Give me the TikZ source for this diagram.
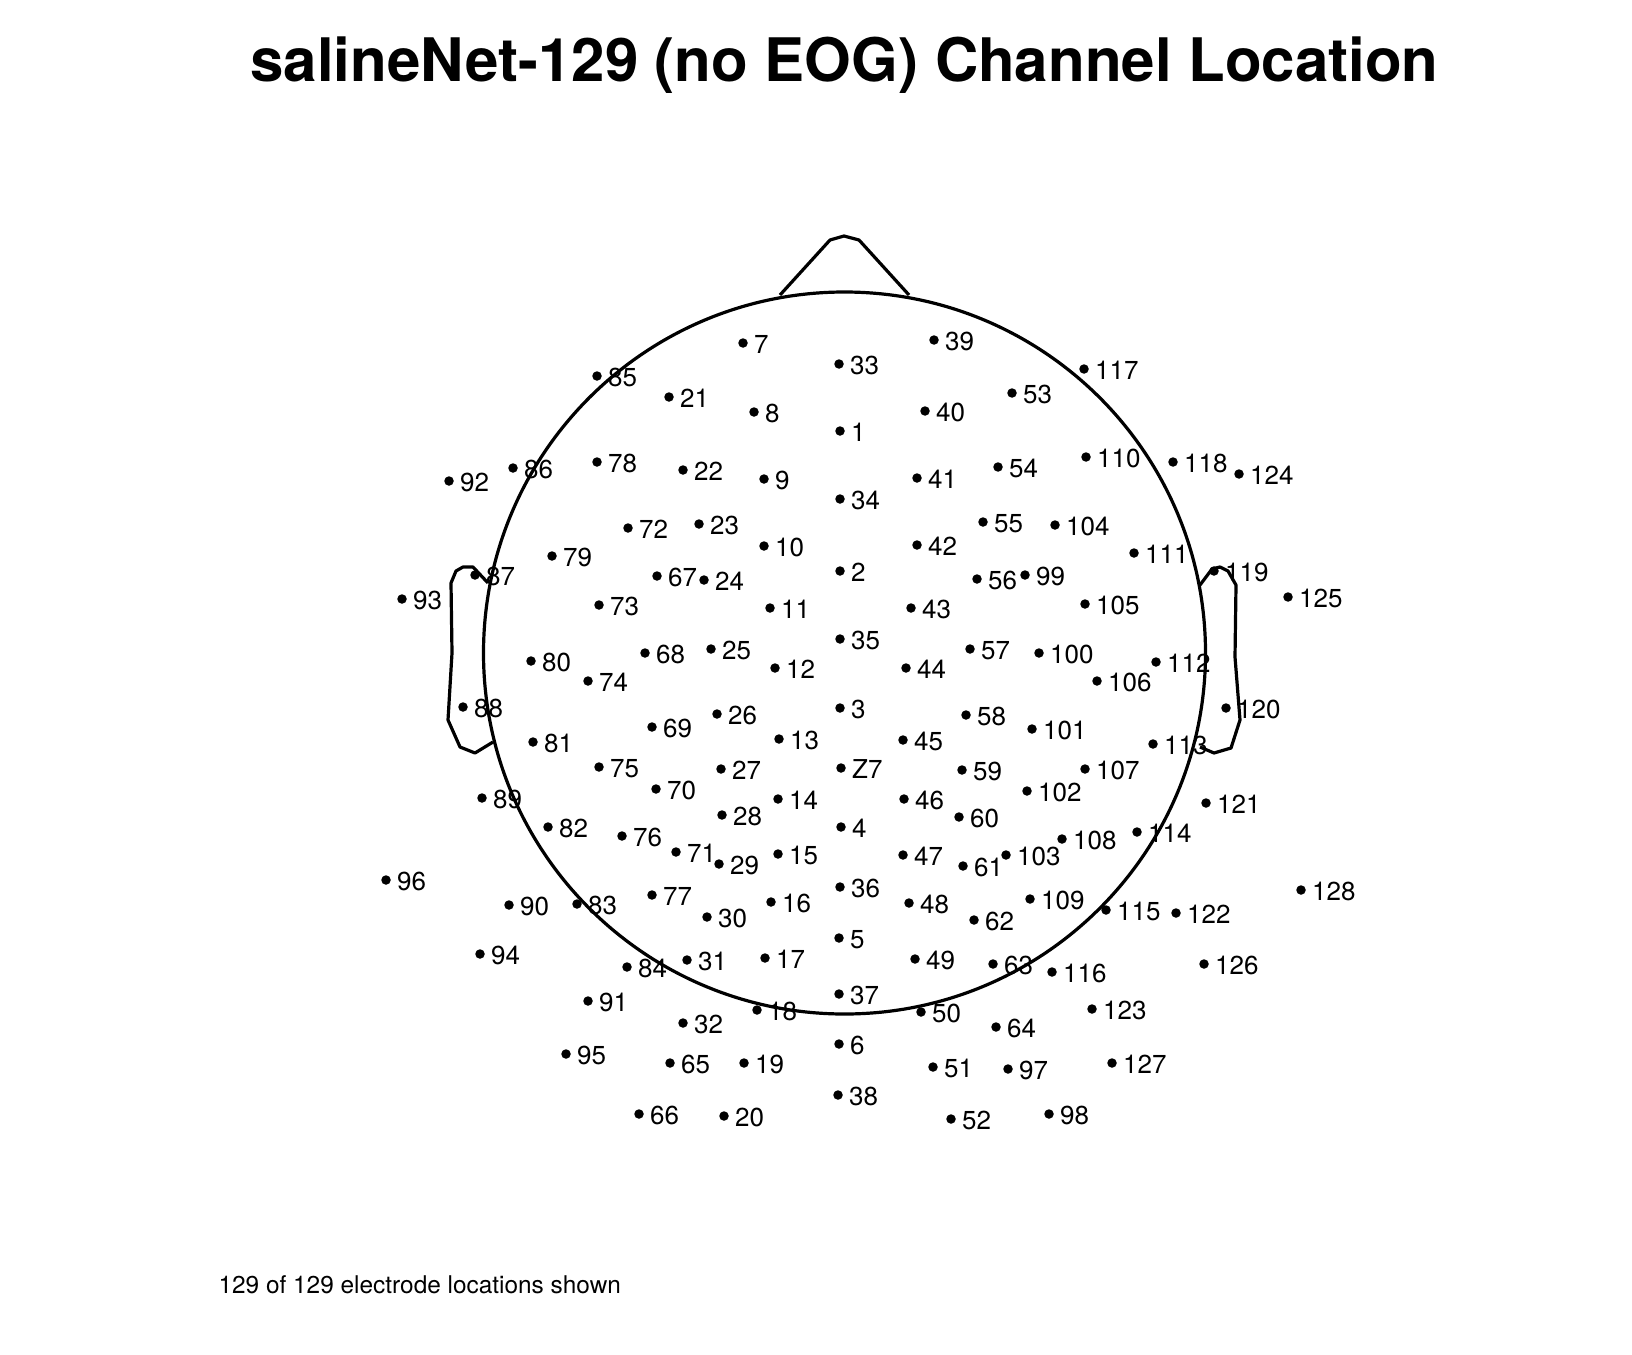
\documentclass[tikz,border=0pt]{standalone}
\usepackage{fontspec}
\setmainfont{TeX Gyre Heros}
\usepackage{tikz}

\begin{document}
\begin{tikzpicture}[x=1pt, y=-1pt,
      mydot/.style={
         circle,
         fill=black,
         inner sep=0pt,
         minimum size=9.5pt},
      mylabel/.style={
         inner sep=0pt,
         label distance=6pt,
         yshift=-1.5pt,
         font=\fontsize{26}{30}\selectfont},
      headline/.style={line width=3.2pt, line join=round}
      ]
      \useasboundingbox (0,0) rectangle (1632,1354);

      \node[anchor=base, font=\fontsize{60}{70}\selectfont\bfseries] (title) at (844.5,81.7) {salineNet-129 (no EOG) Channel Location};

      % head, nose and ears
      \draw[headline] (844.5,653) circle[radius=361pt];
      \draw[headline] (780,295) -- (830,240) -- (844,236) -- (859,240) -- (909,295);
      \draw[headline] (488,583) -- (473,567) -- (463,567) -- (456,571) -- (451,583) -- (452,653) -- (448,720) -- (460,747) -- (475,753) -- (493,742);
      \draw[headline] (1200,585) -- (1212,569) -- (1220,567) -- (1228,571) -- (1236,585) -- (1235,657) -- (1240,720) -- (1231,748) -- (1214,753) -- (1200,747);

    \foreach \n/\x/\y in {% name/x/y
      1/840/431, 2/840/571, 3/840/708, 4/841/827, 5/839/938, 6/839/1044,
      7/743/343, 8/754/412, 9/764/479, 10/764/546, 11/770/608, 12/775/668,
      13/779/739, 14/778/799, 15/778/854, 16/771/902, 17/765/958, 18/757/1010,
      19/744/1063, 20/724/1116, 21/669/397, 22/683/470, 23/699/524, 24/704/580,
      25/711/649, 26/717/714, 27/721/769, 28/722/815, 29/719/864, 30/707/917,
      31/687/960, 32/683/1023, 33/839/364, 34/840/499, 35/840/639, 36/840/887,
      37/839/994, 38/838/1095, 39/934/340, 40/925/411, 41/917/478, 42/917/545,
      43/911/608, 44/906/668, 45/903/740, 46/904/799, 47/903/855, 48/909/903,
      49/915/959, 50/921/1012, 51/933/1067, 52/951/1119, 53/1012/393, 54/998/467,
      55/983/522, 56/977/579, 57/970/649, 58/966/715, 59/962/770, 60/959/817,
      61/963/866, 62/974/920, 63/993/964, 64/996/1027, 65/670/1063, 66/639/1114,
      67/657/576, 68/645/653, 69/652/727, 70/656/789, 71/676/852, 72/628/528,
      73/599/605, 74/588/681, 75/599/767, 76/622/836, 77/652/895, 78/597/462,
      79/552/556, 80/531/661, 81/533/742, 82/548/827, 83/577/904, 84/627/967,
      85/597/376, 86/513/468, 87/475/575, 88/463/707, 89/482/798, 90/509/905,
      91/588/1001, 92/449/481, 93/402/599, 94/480/954, 95/566/1054, 96/386/880,
      97/1008/1069, 98/1049/1114, 99/1025/575, 100/1039/653, 101/1032/729, 102/1027/791,
      103/1006/855, 104/1055/525, 105/1085/604, 106/1097/681, 107/1085/769, 108/1062/839,
      109/1030/899, 110/1086/457, 111/1134/553, 112/1156/662, 113/1153/744, 114/1137/832,
      115/1106/910, 116/1052/972, 117/1084/369, 118/1173/462, 119/1214/571, 120/1226/708,
      121/1206/803, 122/1176/913, 123/1092/1009, 124/1239/474, 125/1288/597, 126/1204/964,
      127/1112/1063, 128/1301/890, Z7/841/768}
       \node[mydot, label={[mylabel]right:\n}] (e\n) at (\x,\y) {};

      \node[anchor=base west, font=\fontsize{24.4}{28}\selectfont] (note) at (215,1293) {129 of 129 electrode locations shown};

    \end{tikzpicture}
\end{document}
